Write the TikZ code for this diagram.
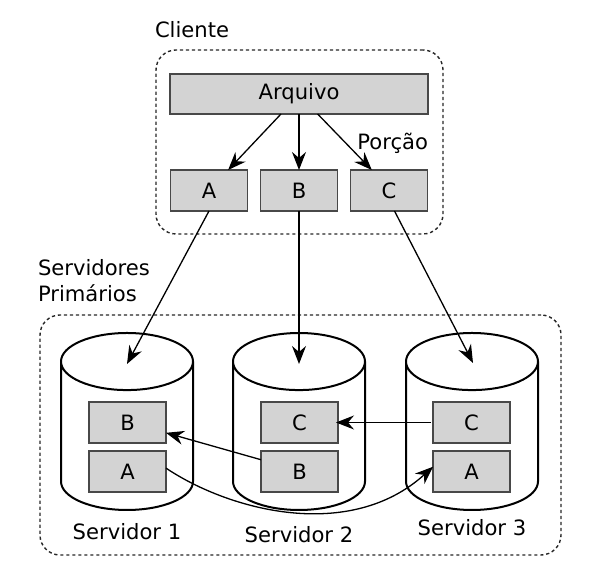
\documentclass[tikz,border=0pt]{standalone}
\usepackage{fontspec}
\setmainfont{DejaVu Sans}
\usetikzlibrary{shapes.geometric,arrows.meta,positioning}

\definecolor{boxgray}{HTML}{D3D3D3}
\definecolor{edgegray}{HTML}{484848}

\tikzset{
    groupbox/.style={rectangle, draw=black!85, line width=1.4pt, dash pattern=on 3.2pt off 2.8pt, rounded corners=20pt, outer sep=0pt},
    piece/.style={rectangle, draw=edgegray, line width=1.6pt, fill=boxgray, minimum width=77pt, minimum height=41pt, inner sep=0pt, outer sep=0pt},
    server/.style={cylinder, shape border rotate=90, shape aspect=2.32, draw=black, line width=2pt, minimum width=132pt, minimum height=177pt, inner xsep=12.3pt, outer sep=0pt, anchor=shape center},
    caption/.style={inner sep=0pt, outer sep=0pt},
    link/.style={-{Stealth[length=18pt, width=14pt, inset=6pt]}, line width=1.3pt}
}

\begin{document}
\begin{tikzpicture}[x=1pt, y=1pt, font=\fontsize{21.1}{26}\selectfont]
    \useasboundingbox (0,0) rectangle (600,577);

    \node (cliente) [groupbox, minimum width=287pt, minimum height=184pt] at (299.5,435) {};
    \node (primarios) [groupbox, minimum width=521pt, minimum height=240pt] at (300.5,142) {};

    \node (arquivo) [piece, minimum width=258pt, minimum height=40pt] at (299,483) {Arquivo};
    \node (pieceB) [piece, below=56pt of arquivo] {B};
    \node (pieceA) [piece, left=13pt of pieceB] {A};
    \node (pieceC) [piece, right=13pt of pieceB] {C};

    \node (serv1) [server] at (127,155.5) {};
    \node (serv2) [server] at (299,155.5) {};
    \node (serv3) [server] at (472,155.5) {};

    \node (s1B) [piece] at (127.5,154.5) {B};
    \node (s1A) [piece, below=8pt of s1B] {A};
    \node (s2C) [piece, right=95pt of s1B] {C};
    \node (s2B) [piece, below=8pt of s2C] {B};
    \node (s3C) [piece, right=95pt of s2C] {C};
    \node (s3A) [piece, below=8pt of s3C] {A};

    \coordinate (top1) at (127,213);
    \coordinate (top2) at (299,213);
    \coordinate (top3) at (473,214);

    \node (lblcliente) [caption, anchor=west] at (155,547) {Cliente};
    \node (lblporcao) [caption, anchor=east] at (428,434) {Porção};
    \node (lblserv) [caption, anchor=north west, align=left] at (38,318) {Servidores\\Primários};
    \node (lbl1) [caption] at (127,45) {Servidor 1};
    \node (lbl2) [caption] at (299,42) {Servidor 2};
    \node (lbl3) [caption] at (472,49) {Servidor 3};

    \draw [link] (arquivo.228) -- (pieceA.47);
    \draw [link] (arquivo.south) -- (pieceB.north);
    \draw [link] (arquivo.313) -- (pieceC.130);

    \draw [link] (pieceA.south) -- (top1);
    \draw [link] (pieceB.south) -- (top2);
    \draw [link] (pieceC.285) -- (top3);

    \draw [link] (s2B.163) -- (s1B.-15);
    \draw [link] ([xshift=-2pt]s3C.west) -- ([xshift=-2pt]s2C.east);
    \draw [link] (s1A.5) .. controls (230,66) and (350,35) .. (s3A.173);
\end{tikzpicture}
\end{document}
